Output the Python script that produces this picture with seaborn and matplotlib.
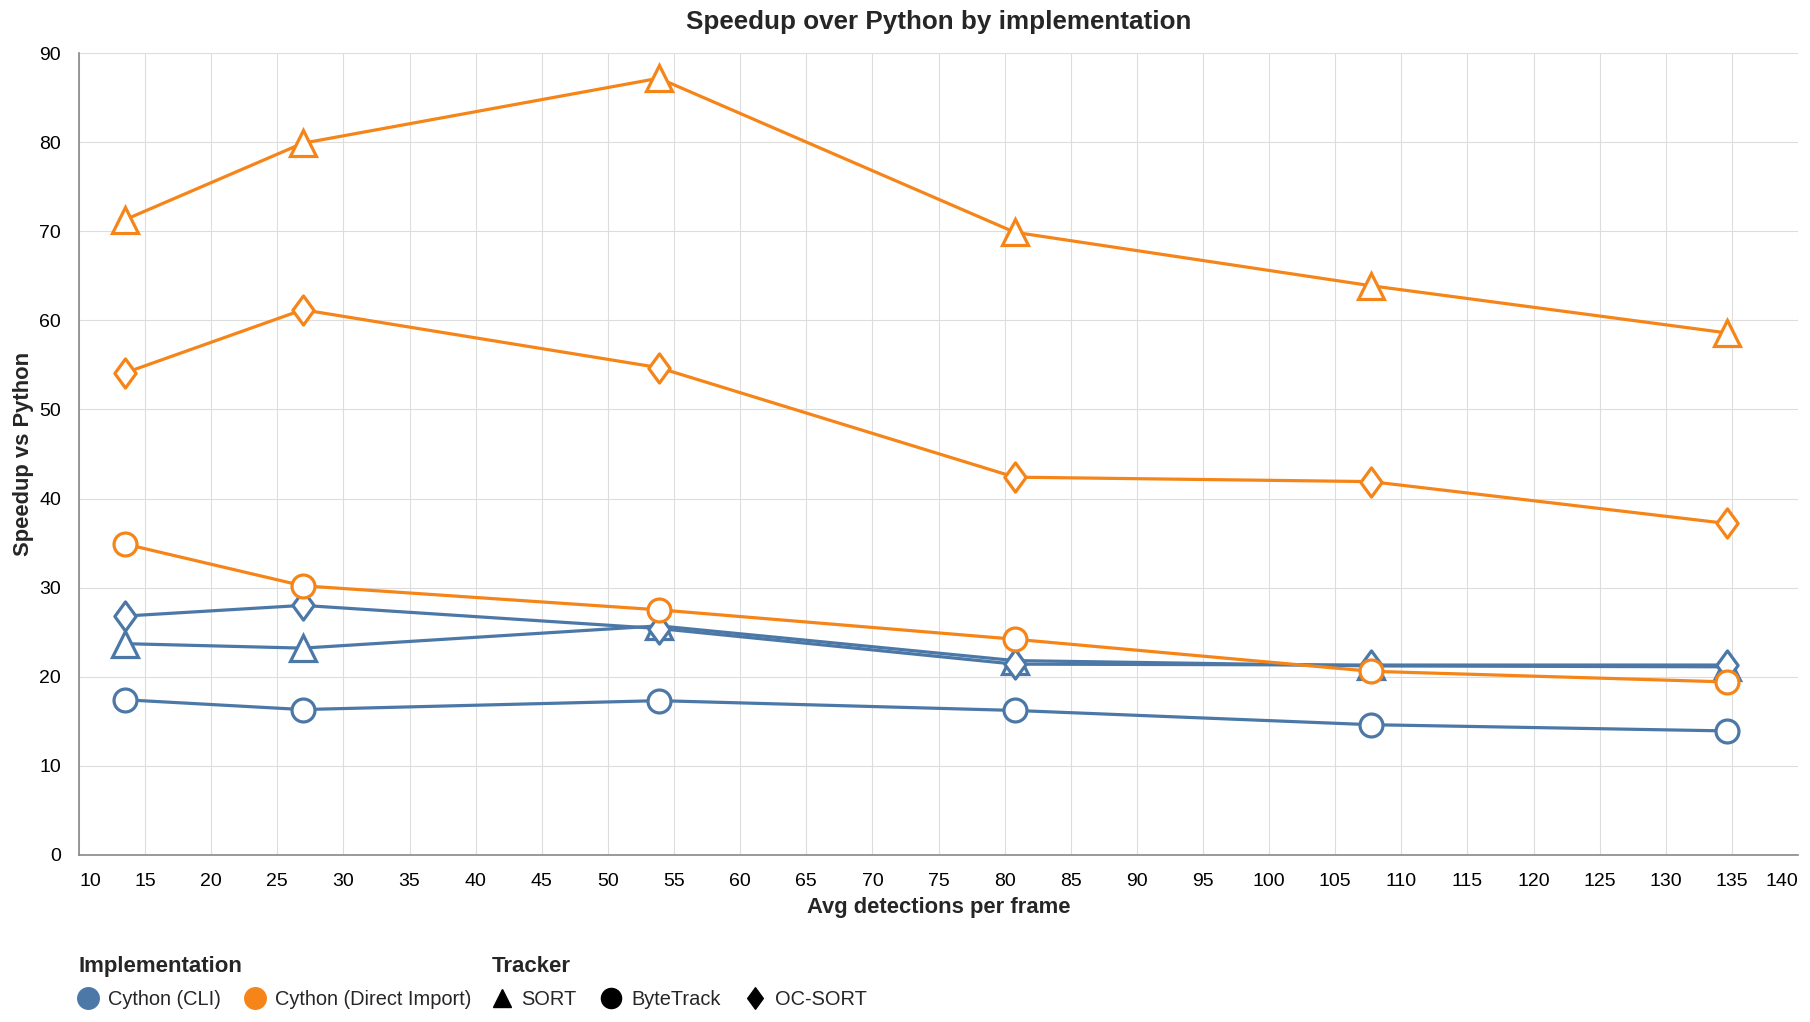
import numpy as np
import pandas as pd
import matplotlib
matplotlib.use("Agg")
import matplotlib.pyplot as plt
from matplotlib.lines import Line2D
from matplotlib.path import Path
import seaborn as sns

# ---- data ----
x_vals = [13.46, 26.92, 53.85, 80.77, 107.69, 134.62]
implementations = ["Cython (CLI)", "Cython (Direct Import)"]
trackers = ["SORT", "ByteTrack", "OC-SORT"]
cli_sort = [23.7, 23.2, 25.7, 21.8, 21.2, 21.1]
cli_bytetrack = [17.4, 16.3, 17.3, 16.2, 14.6, 13.9]
cli_ocsort = [26.8, 28.0, 25.4, 21.4, 21.3, 21.3]
di_sort = [71.3, 79.9, 87.2, 69.9, 63.9, 58.6]
di_bytetrack = [34.9, 30.2, 27.5, 24.2, 20.6, 19.4]
di_ocsort = [54.1, 61.2, 54.7, 42.4, 41.9, 37.2]
x_ticks = list(range(10, 145, 5))
y_ticks = list(range(0, 100, 10))

series = {
    ("Cython (CLI)", "SORT"): cli_sort,
    ("Cython (CLI)", "ByteTrack"): cli_bytetrack,
    ("Cython (CLI)", "OC-SORT"): cli_ocsort,
    ("Cython (Direct Import)", "SORT"): di_sort,
    ("Cython (Direct Import)", "ByteTrack"): di_bytetrack,
    ("Cython (Direct Import)", "OC-SORT"): di_ocsort,
}
rows = []
for (impl, trk), ys in series.items():
    for xv, yv in zip(x_vals, ys):
        rows.append({"Avg detections per frame": xv, "Speedup vs Python": yv,
                     "Implementation": impl, "Tracker": trk})
df = pd.DataFrame(rows)

# ---- style ----
sns.set_style("white")
plt.rcParams["font.family"] = ["Liberation Sans", "DejaVu Sans"]

BLUE = "#4c78a8"
ORANGE = "#f58518"
palette = {"Cython (CLI)": BLUE, "Cython (Direct Import)": ORANGE}

diamond = Path([(0, 1), (0.73, 0), (0, -1), (-0.73, 0), (0, 1)],
               [Path.MOVETO, Path.LINETO, Path.LINETO, Path.LINETO, Path.CLOSEPOLY])
markers = {"SORT": "^", "ByteTrack": "o", "OC-SORT": diamond}
msizes = {"SORT": 19, "ByteTrack": 16.5, "OC-SORT": 21}

W, H = 1810, 1022
fig = plt.figure(figsize=(W / 100, H / 100), dpi=100)
ax_l, ax_r, ax_t, ax_b = 79, 1798, 53.3, 854.7
ax = fig.add_axes([ax_l / W, 1 - ax_b / H, (ax_r - ax_l) / W, (ax_b - ax_t) / H])

sns.lineplot(data=df, x="Avg detections per frame", y="Speedup vs Python",
             hue="Implementation", style="Tracker", hue_order=implementations,
             style_order=trackers, palette=palette, markers=markers, dashes=False,
             linewidth=2.3, ax=ax, legend=False, zorder=3)

# hollow markers with coloured edges, size per tracker shape
plotted = [l for l in ax.lines if len(l.get_xdata()) == len(x_vals)]
for line in plotted:
    c = line.get_color()
    line.set_markerfacecolor("white")
    line.set_markeredgecolor(c)
    line.set_markeredgewidth(2.3)
    ys = list(np.round(line.get_ydata(), 3))
    for (impl, trk), vals in series.items():
        if list(np.round(vals, 3)) == ys:
            line.set_markersize(msizes[trk])

ax.set_xlim(10, 140)
ax.set_ylim(0, 90)
ax.set_xticks(x_ticks)
ax.set_yticks(y_ticks)
ax.set_xticklabels([str(t) for t in x_ticks], fontsize=14, color="#000000")
ax.set_yticklabels([str(t) for t in y_ticks], fontsize=14, color="#000000")
xt = ax.get_xticklabels()
xt[0].set_horizontalalignment("left")
xt[-1].set_horizontalalignment("right")
ax.tick_params(axis="both", length=9, width=1, color="#888888", pad=4)
ax.grid(True, color="#dddddd", linewidth=0.8, zorder=0)
ax.set_axisbelow(True)
for s in ["top", "right"]:
    ax.spines[s].set_visible(False)
for s in ["left", "bottom"]:
    ax.spines[s].set_color("#888888")
    ax.spines[s].set_linewidth(1.2)
ax.set_xlabel("")
ax.set_ylabel("")

fig.text((ax_l + ax_r) / 2 / W, 1 - 907 / H, "Avg detections per frame",
         ha="center", va="center", fontsize=15.8, fontweight="bold")
fig.text(23 / W, 1 - (ax_t + ax_b) / 2 / H, "Speedup vs Python", rotation=90,
         ha="center", va="center", fontsize=15.8, fontweight="bold")
fig.text((ax_l + ax_r) / 2 / W, 1 - 22 / H, "Speedup over Python by implementation",
         ha="center", va="center", fontsize=18.7, fontweight="bold")

# ---- legends ----
impl_handles = [Line2D([], [], linestyle="none", marker="o", markersize=15.5,
                       markerfacecolor=palette[i], markeredgecolor=palette[i])
                for i in implementations]
trk_handles = [Line2D([], [], linestyle="none", marker=markers[t],
                      markersize={"SORT": 13.5, "ByteTrack": 14.5, "OC-SORT": 15.5}[t],
                      markerfacecolor="black", markeredgecolor="black")
               for t in trackers]
common = dict(frameon=False, fontsize=14.4, title_fontproperties={"weight": "bold", "size": 16},
              handlelength=1.0, handletextpad=0.48, columnspacing=1.23, labelspacing=0.65,
              borderpad=0, borderaxespad=0, alignment="left", loc="upper left")
leg1 = fig.legend(impl_handles, implementations, title="Implementation", ncol=2,
                  bbox_to_anchor=(78 / W, 1 - 956 / H), **common)
leg2 = fig.legend(trk_handles, trackers, title="Tracker", ncol=3,
                  bbox_to_anchor=(492 / W, 1 - 956 / H), **common)

fig.savefig("out.png", dpi=100, facecolor="white")
